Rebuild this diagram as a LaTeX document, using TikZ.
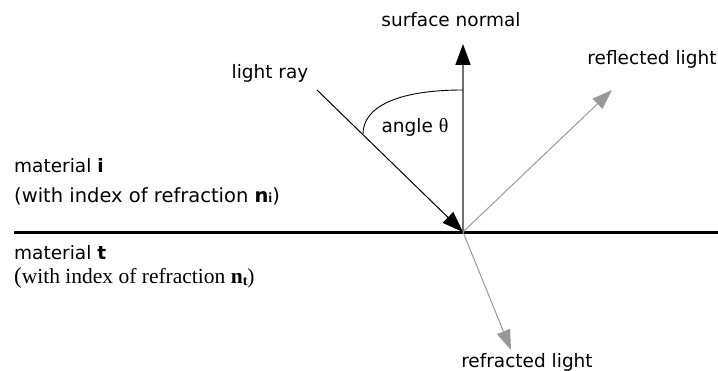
\documentclass[tikz,border=0pt]{standalone}
\usepackage{fontspec}
\setmainfont{DejaVu Sans}
\newfontfamily\serifx{Liberation Serif}
\usetikzlibrary{arrows.meta}
\definecolor{raygray}{HTML}{999999}
\definecolor{normgray}{HTML}{707070}
\begin{document}
\begin{tikzpicture}[x=1pt,y=-1pt,
  lbl/.style={inner sep=0pt,font=\fontsize{18.5}{20}\selectfont},
  lefttxt/.style={inner sep=0pt,anchor=base west,font=\fontsize{18.5}{20}\selectfont},
  serifline/.style={inner sep=0pt,anchor=base west,font=\fontsize{21.5}{22}\serifx},
  blackhead/.style={-{Triangle[length=21pt,width=15pt,color=black,fill=black]}},
  grayhead/.style={-{Triangle[length=20pt,width=14pt,color=raygray,fill=raygray]}}
]
\useasboundingbox (0,0) rectangle (718,371);
\coordinate (P) at (463,232);
\coordinate (N) at (463,44);
\coordinate (R0) at (317,90);
\coordinate (RF) at (612,90);
\coordinate (RR) at (511,350);
\coordinate (SL) at (14,232.5);
\coordinate (SR) at (718,232.5);
\coordinate (A0) at (463,90);
\coordinate (A1) at (363,134);
% surface
\draw[line width=3pt] (SL) -- (SR);
% normal
\draw[normgray,line width=1.6pt,blackhead] (P) -- (N);
% incident ray
\draw[black,line width=1pt,blackhead] (R0) -- (P);
% reflected and refracted
\draw[raygray,line width=1pt,grayhead] (P) -- (RF);
\draw[raygray,line width=1pt,grayhead] (P) -- (RR);
% angle arc
\draw[black,line width=0.9pt] (A0) .. controls (395,90) and (363,108) .. (A1);
% labels
\node[lbl] (tsn) at (451,20) {surface normal};
\node[lbl] (tlr) at (270,73) {light ray};
\node[lbl] (tang) at (415,127) {angle {\serifx\fontsize{20}{20}\selectfont θ}};
\node[lbl] (trefl) at (652,59) {reflected light};
\node[lbl] (trefr) at (527,362) {refracted light};
\node[lefttxt] (tmi) at (14,173) {material \textbf{i}};
\node[lefttxt,font=\fontsize{19.5}{20}\selectfont] (twi) at (14,203) {(with index of refraction \textbf{n}{\serifx\bfseries\fontsize{14}{14}\selectfont i})};
\node[lefttxt] (tmt) at (14,260) {material \textbf{t}};
\node[serifline] (twt) at (14,284) {{\fontsize{23}{22}\selectfont(}with index of refraction \textbf{n}\raisebox{-1.5pt}{\fontsize{14}{14}\selectfont\bfseries t})};
\end{tikzpicture}
\end{document}
